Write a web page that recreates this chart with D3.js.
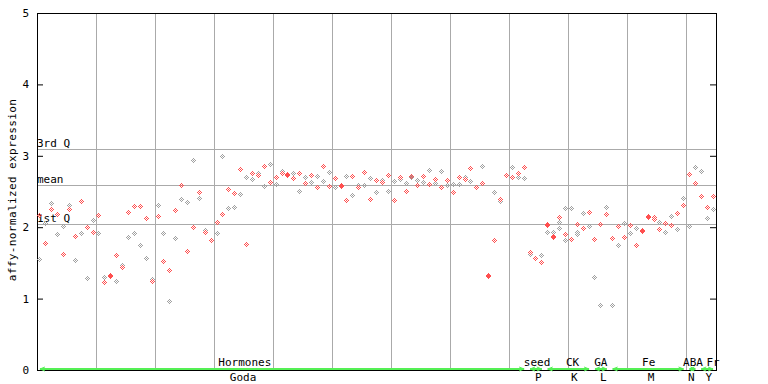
<!DOCTYPE html>
<html>
<head>
<meta charset="utf-8">
<script src="https://cdn.jsdelivr.net/npm/d3@7"></script>
<style>
    body { margin: 0; background: #fff; }
    text { font-family: "DejaVu Sans Mono", monospace; font-size: 11px; fill: #000; }
</style>
</head>
<body>
<div class="chart-container"></div>
<script>
// Chart params
const width = 768;
const height = 384;
const margin = { top: 13, right: 52, bottom: 14, left: 37 };

// Expression values per sample position
const sampleVals = [
    [2.16, 1.55], [1.77, 2.05], [2.25, 2.33], [2.18, 1.90], [1.62, 2.01],
    [2.25, 2.31], [1.87, 1.54], [2.36, 1.91], [2.00, 1.28], [1.93, 2.10],
    [2.17, 1.91], [1.23, 1.30], [1.32, 1.31], [1.61, 1.24], [1.44, 1.47],
    [2.21, 1.86], [2.29, 1.91], [2.29, 1.75], [2.12, 1.56], [1.24, 1.27],
    [2.15, 2.31], [1.52, 1.91], [1.40, 0.96], [2.24, 1.84], [2.59, 2.39],
    [1.66, 2.35], [2.00, 2.94], [2.49, 2.40], [1.93, 1.96], [1.82, 1.82],
    [2.07, 1.91], [2.18, 2.99], [2.53, 2.26], [2.47, 2.28], [2.81, 2.46],
    [1.76, 2.70], [2.75, 2.67], [2.73, 2.75], [2.85, 2.57], [2.63, 2.88],
    [2.70, 2.60], [2.75, 2.78], [2.74, 2.73], [2.68, 2.75], [2.75, 2.50],
    [2.61, 2.70], [2.73, 2.63], [2.56, 2.71], [2.85, 2.64], [2.57, 2.77],
    [2.68, 2.56], [2.59, 2.57], [2.38, 2.71], [2.71, 2.45], [2.56, 2.59],
    [2.77, 2.59], [2.39, 2.68], [2.66, 2.49], [2.63, 2.66], [2.73, 2.50],
    [2.38, 2.64], [2.70, 2.67], [2.50, 2.61], [2.71, 2.69], [2.59, 2.66],
    [2.71, 2.63], [2.60, 2.80], [2.67, 2.61], [2.56, 2.78], [2.66, 2.59],
    [2.49, 2.60], [2.70, 2.60], [2.67, 2.70], [2.82, 2.64], [2.56, 2.56],
    [2.61, 2.85], [1.33, 1.31], [1.82, 2.49], [2.39, 2.36], [2.73, 2.73],
    [2.70, 2.84], [2.75, 2.70], [2.84, 2.68], [1.65, 1.62], [1.56],
    [1.51, 1.61], [2.04, 2.03, 1.93], [1.87, 1.86, 1.93], [2.14, 2.07, 1.98], [1.90, 2.26, 1.82],
    [1.83, 2.26], [2.04, 1.93, 1.90], [1.98, 2.19], [2.21, 2.01], [1.83, 1.30],
    [2.04, 0.91], [2.18, 2.28], [1.84, 0.91], [2.01, 1.75], [1.86, 2.05],
    [2.03, 1.91], [1.75, 1.98], [1.96, 1.94], [2.15, 2.13], [2.13, 2.11],
    [1.97, 2.07], [2.05, 1.93], [2.03, 2.15], [2.19, 1.97], [2.31, 2.40],
    [2.74, 2.01], [2.61, 2.84], [2.43, 2.78], [2.28, 2.12], [2.43, 2.25]
];

// Marker colour for each value above: r = red, g = gray
const sampleCols = [
    'rg', 'rg', 'rg', 'rg', 'rg', 'rg', 'rg', 'rg', 'rg', 'rg',
    'rg', 'rg', 'rr', 'rg', 'rg', 'rg', 'rg', 'rg', 'rg', 'rg',
    'rg', 'rg', 'rg', 'rg', 'rg', 'rg', 'rg', 'rg', 'rg', 'rg',
    'rg', 'rg', 'rg', 'rg', 'rg', 'rg', 'rg', 'rg', 'rg', 'rg',
    'rg', 'rg', 'rr', 'rg', 'rg', 'rg', 'rg', 'rg', 'rg', 'rg',
    'rg', 'rr', 'rg', 'rg', 'rg', 'rg', 'rg', 'rg', 'rg', 'rg',
    'rg', 'rg', 'rg', 'rg', 'rg', 'rg', 'rg', 'rg', 'rg', 'rg',
    'rg', 'rg', 'rg', 'rg', 'rg', 'rg', 'rr', 'rg', 'rg', 'rg',
    'rg', 'rg', 'rg', 'rg', 'r',
    'rg', 'rrg', 'rrg', 'rgg', 'rgg', 'rg', 'rgg', 'rg', 'rg', 'rg',
    'rg', 'rg', 'rg', 'rg', 'rg', 'rg', 'rg', 'rr', 'rr', 'rr',
    'rg', 'rg', 'rg', 'rg', 'rg', 'rg', 'rg', 'rg', 'rg', 'rg'
];

// Summary lines
const quartNames = ['3rd Q', 'mean', '1st Q'];
const quartVals = [3.10, 2.59, 2.04];

// Y axis ticks
const yTicks = [0, 1, 2, 3, 4, 5];

// Experiment groups along the bottom
const groupNames = ['Hormones', 'seed', 'CK', 'GA', 'Fe', 'ABA', 'Fr'];
const groupCodes = ['Goda', 'P', 'K', 'L', 'M', 'N', 'Y'];
const groupStart = [0, 83, 86, 94, 97, 110, 112];
const groupEnd = [82, 85, 93, 96, 109, 111, 114];
const nameAt = [34.7, 84.2, 90.2, 95.0, 103.1, 110.6, 114.0];
const codeAt = [34.4, 84.4, 90.5, 95.4, 103.5, 110.3, 113.3];

const red = '#ff4f4f';
const gray = '#a0a0a0';
const grid = '#aaaaaa';
const green = '#55f055';

// Pixel pattern of one marker (hollow diamond with a centre dot)
const markerPixels = [[0, -2], [-1, -1], [1, -1], [-2, 0], [0, 0], [2, 0], [-1, 1], [1, 1], [0, 2]];
const markerPath = markerPixels.map(p => `M${p[0]},${p[1]}h1v1h-1z`).join('');

function drawChart() {

    const svg = d3.select('.chart-container')
        .append('svg')
        .attr('width', width)
        .attr('height', height);

    const x = d3.scaleLinear()
        .domain([-0.5, sampleVals.length - 0.5])
        .range([margin.left, width - margin.right]);

    const y = d3.scaleLinear()
        .domain([0, 5])
        .range([height - margin.bottom, margin.top]);

    const x0 = x.range()[0], x1 = x.range()[1];

    // Vertical grid every 10 samples
    const vLines = d3.range(9.5, sampleVals.length - 1, 10);
    svg.selectAll('.vgrid')
        .data(vLines)
        .enter()
        .append('line')
        .attr('class', 'vgrid')
        .attr('x1', d => Math.round(x(d)) + 0.5)
        .attr('x2', d => Math.round(x(d)) + 0.5)
        .attr('y1', y(5))
        .attr('y2', y(0))
        .attr('stroke', grid);

    // Quartile / mean lines
    svg.selectAll('.qline')
        .data(quartVals)
        .enter()
        .append('line')
        .attr('class', 'qline')
        .attr('x1', x0)
        .attr('x2', x1)
        .attr('y1', d => Math.round(y(d)) + 0.5)
        .attr('y2', d => Math.round(y(d)) + 0.5)
        .attr('stroke', grid);

    svg.selectAll('.qlabel')
        .data(quartVals)
        .enter()
        .append('text')
        .attr('class', 'qlabel')
        .attr('x', x0)
        .attr('y', d => Math.round(y(d)) - 2)
        .text((d, i) => quartNames[i]);

    // Axes
    svg.append('g')
        .attr('transform', `translate(${x0},0)`)
        .call(d3.axisLeft(y).tickValues(yTicks).tickSize(-6).tickPadding(8).tickFormat(d3.format('d')))
        .call(g => g.select('.domain').remove())
        .call(g => g.selectAll('.tick line').attr('stroke', '#000'))
        .call(g => g.selectAll('text').style('font-family', '"DejaVu Sans Mono", monospace').style('font-size', '11px'));

    svg.append('g')
        .attr('transform', `translate(${x1},0)`)
        .call(d3.axisRight(y).tickValues(yTicks).tickSize(-6).tickFormat(''))
        .call(g => g.select('.domain').remove())
        .call(g => g.selectAll('.tick line').attr('stroke', '#000'));

    // Frame
    svg.append('line').attr('x1', x0 + 0.5).attr('x2', x0 + 0.5).attr('y1', y(5)).attr('y2', y(0) + 1).attr('stroke', '#000');
    svg.append('line').attr('x1', x1 + 0.5).attr('x2', x1 + 0.5).attr('y1', y(5)).attr('y2', y(0) + 1).attr('stroke', '#000');
    svg.append('line').attr('x1', x0).attr('x2', x1 + 1).attr('y1', y(5) + 0.5).attr('y2', y(5) + 0.5).attr('stroke', '#000');
    svg.append('line').attr('x1', x0).attr('x2', x1 + 1).attr('y1', y(0) + 0.5).attr('y2', y(0) + 0.5).attr('stroke', '#000');

    // Y axis title
    svg.append('text')
        .attr('transform', `translate(16,190) rotate(-90)`)
        .attr('text-anchor', 'middle')
        .style('letter-spacing', '0.4px')
        .text('affy-normalized expression');

    // Flatten points, red drawn on top
    const points = [];
    sampleVals.forEach((vals, i) => {
        vals.forEach((v, j) => points.push({ i: i, v: v, red: sampleCols[i][j] === 'r' }));
    });
    points.sort((a, b) => a.red - b.red);

    svg.selectAll('.point')
        .data(points)
        .enter()
        .append('path')
        .attr('class', 'point')
        .attr('transform', d => `translate(${Math.round(x(d.i) - 0.5)},${Math.round(y(d.v) - 0.5)})`)
        .attr('d', markerPath)
        .attr('fill', d => d.red ? red : gray)
        .attr('shape-rendering', 'crispEdges');

    // Group arrows along the bottom
    const gy = y(0) - 1;
    const arrows = svg.selectAll('.grp')
        .data(groupNames)
        .enter()
        .append('g')
        .attr('class', 'grp');

    arrows.append('line')
        .attr('x1', (d, i) => x(groupStart[i]))
        .attr('x2', (d, i) => x(groupEnd[i]))
        .attr('y1', gy)
        .attr('y2', gy)
        .attr('stroke', green)
        .attr('stroke-width', 2);

    arrows.append('path')
        .attr('d', (d, i) => {
            const a = x(groupStart[i]), b = x(groupEnd[i]);
            return `M${a + 5},${gy - 2}L${a},${gy}L${a + 5},${gy + 2}M${b - 5},${gy - 2}L${b},${gy}L${b - 5},${gy + 2}`;
        })
        .attr('fill', 'none')
        .attr('stroke', green)
        .attr('stroke-width', 1);

    arrows.append('text')
        .attr('x', (d, i) => x(nameAt[i]))
        .attr('y', y(0) - 4)
        .attr('text-anchor', 'middle')
        .text(d => d);

    arrows.append('text')
        .attr('x', (d, i) => x(codeAt[i]))
        .attr('y', y(0) + 11)
        .attr('text-anchor', 'middle')
        .text((d, i) => groupCodes[i]);
}

window.onload = function () {
    drawChart();
};
</script>
</body>
</html>
